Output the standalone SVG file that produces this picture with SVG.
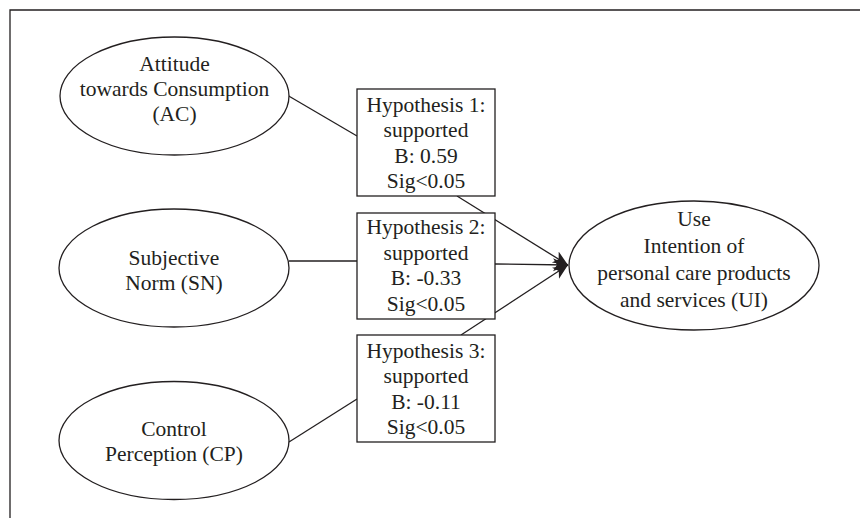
<svg xmlns="http://www.w3.org/2000/svg" width="860" height="518" viewBox="0 0 860 518">
<style>
.t{font-family:'Liberation Serif','Times New Roman',Times,'DejaVu Serif',serif;font-size:21.5px;fill:#231f20;text-anchor:middle}
.s{fill:#fff;stroke:#231f20;stroke-width:1.3}
.c{stroke:#231f20;stroke-width:1.3;fill:none}
</style>
<defs>
<marker id="ah" markerUnits="userSpaceOnUse" markerWidth="16" markerHeight="14" refX="15" refY="6.5" orient="auto">
<path d="M0,0 L15,6.5 L0,13 L4,6.5 z" fill="#231f20"/>
</marker>
</defs>
<g id="frame"><path class="c" d="M10,518 V10 H860"/></g>
<g id="connectors">
<line class="c" x1="287" y1="95" x2="357" y2="136"/>
<line class="c" x1="289" y1="261" x2="357" y2="261"/>
<line class="c" x1="289" y1="442" x2="357" y2="399"/>
<line class="c" x1="457" y1="196" x2="568" y2="265" marker-end="url(#ah)"/>
<line class="c" x1="495" y1="264" x2="568" y2="265" marker-end="url(#ah)"/>
<line class="c" x1="461" y1="335" x2="568" y2="265" marker-end="url(#ah)"/>
</g>
<g id="AC">
<ellipse class="s" cx="174.5" cy="96" rx="114.5" ry="59"/>
<text class="t" x="174.5" y="71">Attitude</text>
<text class="t" x="174.5" y="96">towards Consumption</text>
<text class="t" x="174.5" y="121">(AC)</text>
</g>
<g id="SN">
<ellipse class="s" cx="174" cy="268" rx="115" ry="59"/>
<text class="t" x="174" y="265">Subjective</text>
<text class="t" x="174" y="290">Norm (SN)</text>
</g>
<g id="CP">
<ellipse class="s" cx="174" cy="440.5" rx="115" ry="59"/>
<text class="t" x="174" y="436">Control</text>
<text class="t" x="174" y="461">Perception (CP)</text>
</g>
<g id="H1">
<rect class="s" x="357" y="89" width="138" height="107"/>
<text class="t" x="426" y="111.5">Hypothesis 1:</text>
<text class="t" x="426" y="137">supported</text>
<text class="t" x="426" y="162.5">B: 0.59</text>
<text class="t" x="426" y="188">Sig&lt;0.05</text>
</g>
<g id="H2">
<rect class="s" x="357" y="213" width="138" height="106"/>
<text class="t" x="426" y="234">Hypothesis 2:</text>
<text class="t" x="426" y="259.5">supported</text>
<text class="t" x="426" y="285">B: -0.33</text>
<text class="t" x="426" y="311">Sig&lt;0.05</text>
</g>
<g id="H3">
<rect class="s" x="357" y="335" width="138" height="107"/>
<text class="t" x="426" y="357.5">Hypothesis 3:</text>
<text class="t" x="426" y="383">supported</text>
<text class="t" x="426" y="409">B: -0.11</text>
<text class="t" x="426" y="434">Sig&lt;0.05</text>
</g>
<g id="UI">
<ellipse class="s" cx="694" cy="265.5" rx="125" ry="64.5"/>
<text class="t" x="694" y="226">Use</text>
<text class="t" x="694" y="253">Intention of</text>
<text class="t" x="694" y="280">personal care products</text>
<text class="t" x="694" y="307">and services (UI)</text>
</g>
</svg>
